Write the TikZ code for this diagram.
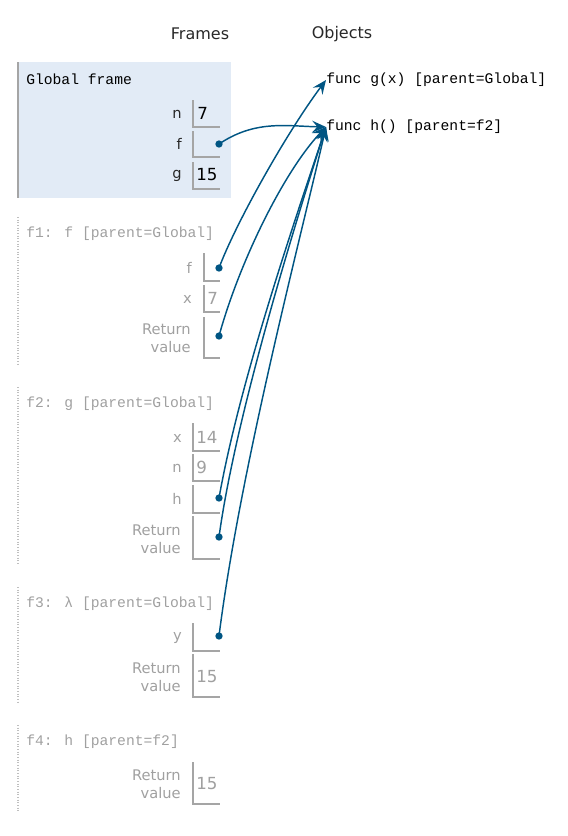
\documentclass[tikz,border=0pt]{standalone}
\usepackage{fontspec}
\setmainfont{DejaVu Sans}
\newfontfamily\monof{Liberation Mono}
\usetikzlibrary{arrows.meta}
\definecolor{arrowblue}{RGB}{0,85,131}
\definecolor{globalbg}{RGB}{226,235,246}
\definecolor{boxgray}{RGB}{165,165,165}
\definecolor{txtgray}{RGB}{160,160,160}
\definecolor{dark}{RGB}{40,40,40}
\tikzset{
  hdr/.style={font=\fontsize{12}{14}\selectfont, text=dark, inner sep=0pt},
  mono/.style={font=\monof\fontsize{11}{13}\selectfont, inner sep=0pt, anchor=west},
  lbl/.style={font=\fontsize{11}{13.5}\selectfont, inner sep=0pt, anchor=east, align=right},
  val/.style={font=\fontsize{12.5}{14}\selectfont, inner sep=0pt, anchor=west},
  boxline/.style={draw=boxgray, line width=0.9pt},
  dotted border/.style={draw=black!25, line width=0.8pt, dash pattern=on 0.8pt off 1.2pt},
  dotp/.style={circle, fill=arrowblue, inner sep=0pt, minimum size=5.5pt},
  ptr/.style={draw=arrowblue, line width=1.1pt, -{Stealth[length=10.5pt,width=9pt,inset=4pt]}},
}
\begin{document}
\begin{tikzpicture}[x=0.75pt,y=-0.75pt]
\useasboundingbox (0,0) rectangle (568,836);
% headers
\node[hdr] (hframes) at (200,34) {Frames};
\node[hdr] (hobjects) at (342,34) {Objects};
% global frame
\fill[globalbg] (18,62) rectangle (231,198);
\draw[boxgray, line width=1.2pt] (18,62) -- (18,198);
\node[mono, text=black] (gtitle) at (26,79) {Global frame};
% n
\node[lbl, text=dark] (gln) at (182,114) {n};
\draw[boxline] (193,100) -- (193,127) -- (220,127);
\node[val, text=black] (gvn) at (197,113) {7};
% f
\node[lbl, text=dark] (glf) at (182,144) {f};
\draw[boxline] (193,131) -- (193,157) -- (220,157);
\node[dotp] (gdf) at (219,144) {};
% g
\node[lbl, text=dark] (glg) at (182,176) {g};
\draw[boxline] (193,162) -- (193,189) -- (220,189);
\node[val, text=black] (gvg) at (196,175) {15};

% f1
\draw[dotted border] (18,217) -- (18,365);
\node[mono, text=txtgray] (f1title) at (26,234) {f1: f [parent=Global]};
\node[lbl, text=txtgray] (f1lf) at (192,268) {f};
\draw[boxline] (204,253) -- (204,281) -- (220,281);
\node[dotp] (f1df) at (219,268) {};
\node[lbl, text=txtgray] (f1lx) at (192,299) {x};
\draw[boxline] (204,285) -- (204,312) -- (220,312);
\node[val, text=txtgray] (f1vx) at (207,298) {7};
\node[lbl, text=txtgray] (f1lr) at (191,338) {Return\\value};
\draw[boxline] (204,317) -- (204,358) -- (220,358);
\node[dotp] (f1dr) at (219,336) {};

% f2
\draw[dotted border] (18,387) -- (18,565);
\node[mono, text=txtgray] (f2title) at (26,404) {f2: g [parent=Global]};
\node[lbl, text=txtgray] (f2lx) at (182,438) {x};
\draw[boxline] (193,423) -- (193,451) -- (220,451);
\node[val, text=txtgray] (f2vx) at (196,437) {14};
\node[lbl, text=txtgray] (f2ln) at (182,468) {n};
\draw[boxline] (193,454) -- (193,481) -- (220,481);
\node[val, text=txtgray] (f2vn) at (196,467) {9};
\node[lbl, text=txtgray] (f2lh) at (182,499) {h};
\draw[boxline] (193,485) -- (193,513) -- (220,513);
\node[dotp] (f2dh) at (219,498) {};
\node[lbl, text=txtgray] (f2lr) at (181,539) {Return\\value};
\draw[boxline] (193,516) -- (193,559) -- (220,559);
\node[dotp] (f2dr) at (219,537) {};

% f3
\draw[dotted border] (18,587) -- (18,703);
\node[mono, text=txtgray] (f3title) at (26,604) {f3: λ [parent=Global]};
\node[lbl, text=txtgray] (f3ly) at (182,638) {y};
\draw[boxline] (193,623) -- (193,651) -- (220,651);
\node[dotp] (f3dy) at (219,636) {};
\node[lbl, text=txtgray] (f3lr) at (181,677) {Return\\value};
\draw[boxline] (193,654) -- (193,697) -- (220,697);
\node[val, text=txtgray] (f3vr) at (196,677) {15};

% f4
\draw[dotted border] (18,725) -- (18,811);
\node[mono, text=txtgray] (f4title) at (26,742) {f4: h [parent=f2]};
\node[lbl, text=txtgray] (f4lr) at (181,784) {Return\\value};
\draw[boxline] (193,762) -- (193,804) -- (220,804);
\node[val, text=txtgray] (f4vr) at (196,784) {15};

% objects
\node[mono, text=black] (gobj) at (326,80) {func g(x) [parent=Global]};
\node[mono, text=black] (hobj) at (326,127) {func h() [parent=f2]};

% pointers
\draw[ptr] (gdf.center) .. controls (255,120) and (285,126) .. (hobj.west);
\draw[ptr] (f1df.center) .. controls (235,225) and (285,135) .. (gobj.west);
\draw[ptr] (f1dr.center) .. controls (240,260) and (285,170) .. (hobj.west);
\draw[ptr] (f2dh.center) .. controls (240,380) and (295,220) .. (hobj.west);
\draw[ptr] (f2dr.center) .. controls (235,420) and (290,240) .. (hobj.west);
\draw[ptr] (f3dy.center) .. controls (240,470) and (300,240) .. (hobj.west);
\end{tikzpicture}
\end{document}
